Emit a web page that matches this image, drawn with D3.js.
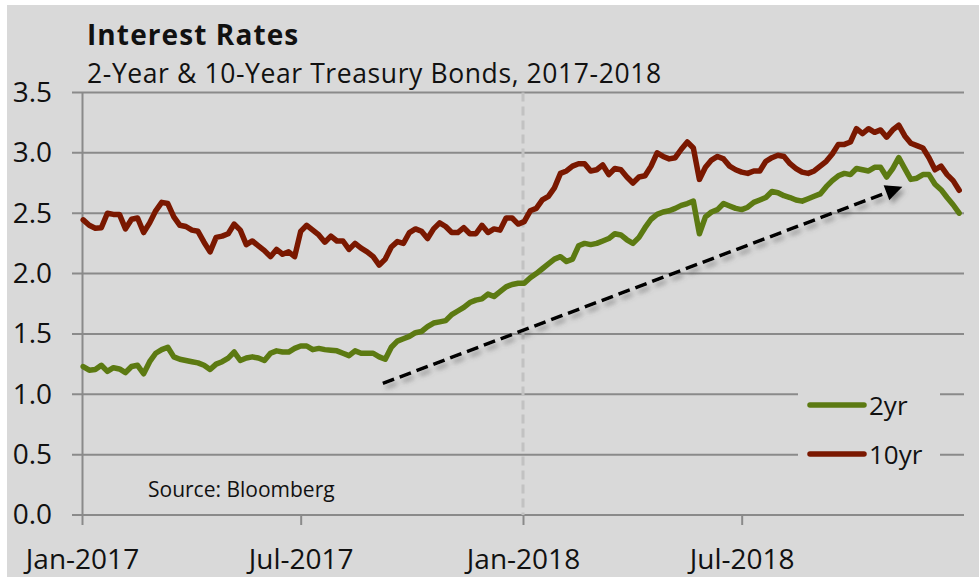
<!DOCTYPE html>
<html>
<head>
<meta charset="utf-8">
<script src="https://cdn.jsdelivr.net/npm/d3@7"></script>
<style>
    body { margin: 0; background: #fff; }
    text { font-family: "Open Sans", sans-serif; fill: #111; }
</style>
</head>
<body>
<script>
// samples: one every 5 days starting 2017-01-02
var firstDay = "2017-01-02";
var stepDays = 5;

var tenYear = [
    2.445, 2.40, 2.375, 2.38, 2.50, 2.49, 2.49, 2.37, 2.45, 2.46,
    2.34, 2.42, 2.52, 2.59, 2.58, 2.47, 2.40, 2.39, 2.36, 2.35,
    2.26, 2.18, 2.30, 2.31, 2.33, 2.41, 2.36, 2.24, 2.27, 2.23,
    2.19, 2.14, 2.20, 2.16, 2.18, 2.14, 2.35, 2.40, 2.36, 2.32,
    2.26, 2.31, 2.27, 2.27, 2.20, 2.25, 2.21, 2.18, 2.14, 2.07,
    2.12, 2.22, 2.265, 2.25, 2.34, 2.37, 2.35, 2.29, 2.37, 2.42,
    2.39, 2.34, 2.34, 2.38, 2.33, 2.33, 2.40, 2.34, 2.37, 2.36,
    2.46, 2.46, 2.41, 2.43, 2.52, 2.54, 2.61, 2.64, 2.71, 2.83,
    2.85, 2.89, 2.91, 2.91, 2.85, 2.86, 2.90, 2.82, 2.87, 2.86,
    2.80, 2.75, 2.80, 2.81, 2.89, 3.00, 2.97, 2.95, 2.96, 3.03,
    3.09, 3.04, 2.78, 2.88, 2.94, 2.97, 2.95, 2.89, 2.86, 2.84,
    2.83, 2.85, 2.85, 2.93, 2.96, 2.98, 2.97, 2.91, 2.87, 2.84,
    2.83, 2.85, 2.89, 2.93, 2.99, 3.07, 3.07, 3.09, 3.20, 3.16,
    3.20, 3.17, 3.19, 3.13, 3.19, 3.23, 3.14, 3.08, 3.06, 3.04,
    2.96, 2.86, 2.89, 2.82, 2.77, 2.69
];

var twoYear = [
    1.23, 1.20, 1.205, 1.24, 1.19, 1.22, 1.21, 1.18, 1.23, 1.24,
    1.17, 1.27, 1.34, 1.37, 1.39, 1.31, 1.29, 1.28, 1.27, 1.26,
    1.24, 1.205, 1.25, 1.27, 1.30, 1.35, 1.28, 1.30, 1.31, 1.30,
    1.28, 1.34, 1.36, 1.35, 1.35, 1.38, 1.40, 1.40, 1.37, 1.38,
    1.37, 1.365, 1.36, 1.34, 1.32, 1.36, 1.34, 1.34, 1.34, 1.31,
    1.29, 1.39, 1.44, 1.46, 1.48, 1.51, 1.52, 1.56, 1.59, 1.60,
    1.61, 1.66, 1.69, 1.72, 1.76, 1.78, 1.79, 1.83, 1.81, 1.85,
    1.89, 1.91, 1.92, 1.92, 1.965, 2.00, 2.04, 2.08, 2.12, 2.14,
    2.10, 2.12, 2.23, 2.25, 2.24, 2.25, 2.27, 2.29, 2.33, 2.32,
    2.28, 2.25, 2.30, 2.38, 2.45, 2.49, 2.51, 2.52, 2.54, 2.565,
    2.58, 2.60, 2.33, 2.47, 2.51, 2.53, 2.58, 2.56, 2.54, 2.53,
    2.55, 2.59, 2.61, 2.63, 2.68, 2.67, 2.645, 2.63, 2.61, 2.60,
    2.62, 2.64, 2.66, 2.72, 2.77, 2.81, 2.83, 2.82, 2.87, 2.86,
    2.85, 2.88, 2.88, 2.80, 2.87, 2.96, 2.87, 2.78, 2.79, 2.82,
    2.82, 2.74, 2.695, 2.63, 2.57, 2.50
];

var yTicks = [0, 0.5, 1.0, 1.5, 2.0, 2.5, 3.0, 3.5];
var xTickDates = ["2017-01-01", "2017-07-01", "2018-01-01", "2018-07-01"];
var xTickLabels = ["Jan-2017", "Jul-2017", "Jan-2018", "Jul-2018"];
var seriesNames = ["2yr", "10yr"];
var seriesColors = ["#5c7a12", "#7a1800"];
var arrowFrom = ["2017-09-07", 1.09];
var arrowTo = ["2018-11-11", 2.72];

var parse = d3.timeParse("%Y-%m-%d");
var start = parse(firstDay);
var dates = tenYear.map(function (d, i) { return d3.timeDay.offset(start, i * stepDays); });

var svg = d3.select("body").append("svg").attr("width", 979).attr("height", 577);

svg.append("rect").attr("x", 7).attr("y", 5).attr("width", 972).attr("height", 572).attr("fill", "#d9d9d9");

var plotLeft = 82, plotRight = 964, plotTop = 92.5, plotBottom = 515;

var x = d3.scaleTime().domain([parse("2017-01-01"), parse("2019-01-01")]).range([plotLeft, plotRight]);
var y = d3.scaleLinear().domain([0, 3.5]).range([plotBottom, plotTop]);

// gridlines
svg.append("g").selectAll("line")
    .data(yTicks)
    .enter().append("line")
    .attr("x1", plotLeft - 10).attr("x2", plotRight)
    .attr("y1", function (d) { return y(d); })
    .attr("y2", function (d) { return y(d); })
    .attr("stroke", "#8a8a8a").attr("stroke-width", 2);

// year divider
svg.append("line")
    .attr("x1", x(parse("2018-01-01"))).attr("x2", x(parse("2018-01-01")))
    .attr("y1", plotTop).attr("y2", plotBottom)
    .attr("stroke", "#c2c2c2").attr("stroke-width", 3)
    .attr("stroke-dasharray", "9,5");

// y axis
var yAxis = svg.append("g")
    .attr("transform", "translate(" + plotLeft + ",0)")
    .call(d3.axisLeft(y).tickValues(yTicks).tickFormat(d3.format(".1f")).tickSize(0).tickPadding(30));
yAxis.select(".domain").attr("stroke", "#8a8a8a").attr("stroke-width", 2);
yAxis.selectAll("text").style("font-size", "28px").attr("fill", "#111");

// x axis
var xAxis = svg.append("g")
    .attr("transform", "translate(0," + plotBottom + ")")
    .call(d3.axisBottom(x).tickValues(xTickDates.map(parse))
        .tickFormat(function (d, i) { return xTickLabels[i]; })
        .tickSize(10).tickSizeOuter(0).tickPadding(24));
xAxis.select(".domain").remove();
xAxis.selectAll("line").attr("stroke", "#8a8a8a").attr("stroke-width", 2);
xAxis.selectAll("text").style("font-size", "28px").attr("fill", "#111");

// legend box hides gridlines
svg.append("rect").attr("x", 798).attr("y", 372).attr("width", 142).attr("height", 110).attr("fill", "#d9d9d9");

var line = d3.line()
    .x(function (d) { return x(d[0]); })
    .y(function (d) { return y(d[1]); });

[twoYear, tenYear].forEach(function (vals, k) {
    svg.append("path")
        .datum(vals.map(function (v, i) { return [dates[i], v]; }))
        .attr("d", line)
        .attr("fill", "none")
        .attr("stroke", seriesColors[k])
        .attr("stroke-width", 5.5)
        .attr("stroke-linejoin", "round")
        .attr("stroke-linecap", "round");
});

// legend
seriesNames.forEach(function (name, k) {
    var ly = 405 + k * 49;
    svg.append("line")
        .attr("x1", 810).attr("x2", 864).attr("y1", ly).attr("y2", ly)
        .attr("stroke", seriesColors[k]).attr("stroke-width", 5.5).attr("stroke-linecap", "round");
    svg.append("text").attr("x", 869).attr("y", ly + 10).style("font-size", "26px").text(name);
});

// arrow with shadow
var defs = svg.append("defs");
var f = defs.append("filter").attr("id", "shadow").attr("x", "-20%").attr("y", "-20%").attr("width", "140%").attr("height", "140%");
f.append("feDropShadow").attr("dx", 3).attr("dy", 4).attr("stdDeviation", 2.5)
    .attr("flood-color", "#555").attr("flood-opacity", 0.55);

var ax1 = x(parse(arrowFrom[0])), ay1 = y(arrowFrom[1]);
var ax2 = x(parse(arrowTo[0])), ay2 = y(arrowTo[1]);
var ang = Math.atan2(ay2 - ay1, ax2 - ax1);
var headLen = 17, headW = 8;
var bx = ax2 - headLen * Math.cos(ang), by = ay2 - headLen * Math.sin(ang);
var arrow = svg.append("g").attr("filter", "url(#shadow)");
arrow.append("line")
    .attr("x1", ax1).attr("y1", ay1).attr("x2", bx).attr("y2", by)
    .attr("stroke", "#000").attr("stroke-width", 3.5).attr("stroke-dasharray", "12,6");
arrow.append("path")
    .attr("d", "M" + ax2 + "," + ay2 +
        "L" + (bx + headW * Math.sin(ang)) + "," + (by - headW * Math.cos(ang)) +
        "L" + (bx - headW * Math.sin(ang)) + "," + (by + headW * Math.cos(ang)) + "Z")
    .attr("fill", "#000");

// titles
svg.append("text").attr("x", 87).attr("y", 45).style("font-size", "28px").style("font-weight", "bold")
    .style("letter-spacing", "1.1px").text("Interest Rates");
svg.append("text").attr("x", 87).attr("y", 83).style("font-size", "26.5px").style("letter-spacing", "0.6px")
    .text("2-Year & 10-Year Treasury Bonds, 2017-2018");
svg.append("text").attr("x", 148).attr("y", 497).style("font-size", "21px")
    .text("Source: Bloomberg");
</script>
</body>
</html>
